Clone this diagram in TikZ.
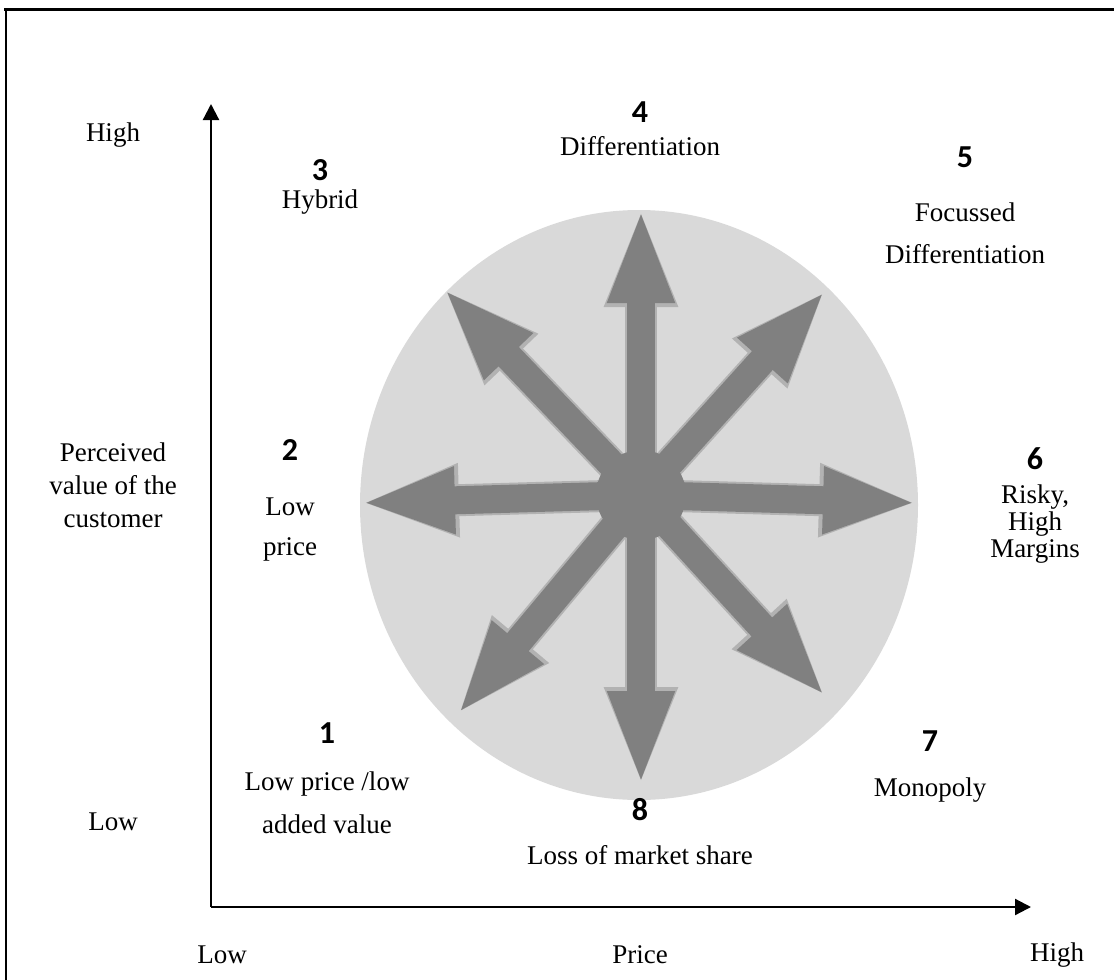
\documentclass[tikz,border=0pt]{standalone}
\usepackage{fontspec}
\setmainfont{Liberation Serif}
\newfontfamily\numfont{Carlito}
\usetikzlibrary{arrows.meta}
\definecolor{mgrey}{rgb}{0.5, 0.5, 0.5}
\definecolor{medge}{rgb}{0.7, 0.7, 0.7}
\definecolor{mlight}{rgb}{0.85, 0.85, 0.85}
\tikzset{spoke/.style = {mgrey, line width = 28pt,
                         -{Triangle[width = 60pt, length = 95pt]}}}
\tikzset{spokeedge/.style = {medge, line width = 32pt,
                             -{Triangle[width = 66pt, length = 99pt]}}}
\tikzset{axis/.style = {line width = 2.2pt, -{Triangle[width = 16pt, length = 16pt]}}}
\tikzset{hub/.style = {fill = mgrey, circle, inner sep = 0, minimum size = 90pt}}
\tikzset{lbl/.style = {font = \fontsize{27}{32}\selectfont, align = center, inner sep = 0}}
\tikzset{num/.style = {font = \fontsize{32}{36}\numfont\bfseries, inner sep = 0}}

\begin{document}
\begin{tikzpicture}[x = 1pt, y = -1pt]
      \useasboundingbox (0, 0) rectangle (1114, 980);
      \draw [line width = 3pt] (4, 9) -- (1114, 9);
      \draw [line width = 2.5pt] (6, 9) -- (6, 980);

      \fill [mlight] (639, 505) ellipse [x radius = 279, y radius = 295];

      \coordinate (origin) at (211, 907);
      \coordinate (ytip) at (211, 104);
      \coordinate (xtip) at (1031, 907);
      \draw [axis] (origin) -- (ytip);
      \draw [axis] (origin) -- (xtip);

      \coordinate (mid) at (641, 495);
      \foreach \n/\x/\y in {1/457/715, 2/360/503, 3/443/288, 4/641/208,
                            5/826/290, 6/918/503, 7/826/697, 8/641/786} {
        \coordinate (t\n) at (\x, \y);
        \draw [spokeedge] (mid) -- (t\n);
      }
      \foreach \n in {1, ..., 8} {
        \draw [spoke] (mid) -- (t\n);
      }
      \node [hub] (hub) at (mid) {};

      \node [lbl] (yhigh) at (113, 135) {High};
      \node [lbl, font = \fontsize{27}{33}\selectfont] (yname) at (113, 485)
            {Perceived\\value of the\\customer};
      \node [lbl] (ylow) at (113, 822) {Low};
      \node [lbl] (xlow) at (222, 955) {Low};
      \node [lbl] (xname) at (640, 955) {Price};
      \node [lbl] (xhigh) at (1057, 955) {High};

      \node [num] (n1) at (327, 733) {1};
      \node [lbl, font = \fontsize{27}{43}\selectfont] (s1) at (327, 803)
            {Low price /low\\added value};
      \node [num] (n2) at (290, 450) {2};
      \node [lbl, font = \fontsize{27}{40}\selectfont] (s2) at (290, 530) {Low\\price};
      \node [num] (n3) at (320, 170) {3};
      \node [lbl] (s3) at (320, 202) {Hybrid};
      \node [num] (n4) at (640, 112) {4};
      \node [lbl] (s4) at (640, 146) {Differentiation};
      \node [num] (n5) at (965, 157) {5};
      \node [lbl, font = \fontsize{27}{42}\selectfont] (s5) at (965, 233)
            {Focussed\\Differentiation};
      \node [num] (n6) at (1035, 459) {6};
      \node [lbl, font = \fontsize{27}{27}\selectfont] (s6) at (1035, 524)
            {Risky,\\High\\Margins};
      \node [num] (n7) at (930, 741) {7};
      \node [lbl] (s7) at (930, 790) {Monopoly};
      \node [num] (n8) at (640, 810) {8};
      \node [lbl] (s8) at (640, 855) {Loss of market share};
\end{tikzpicture}
\end{document}
